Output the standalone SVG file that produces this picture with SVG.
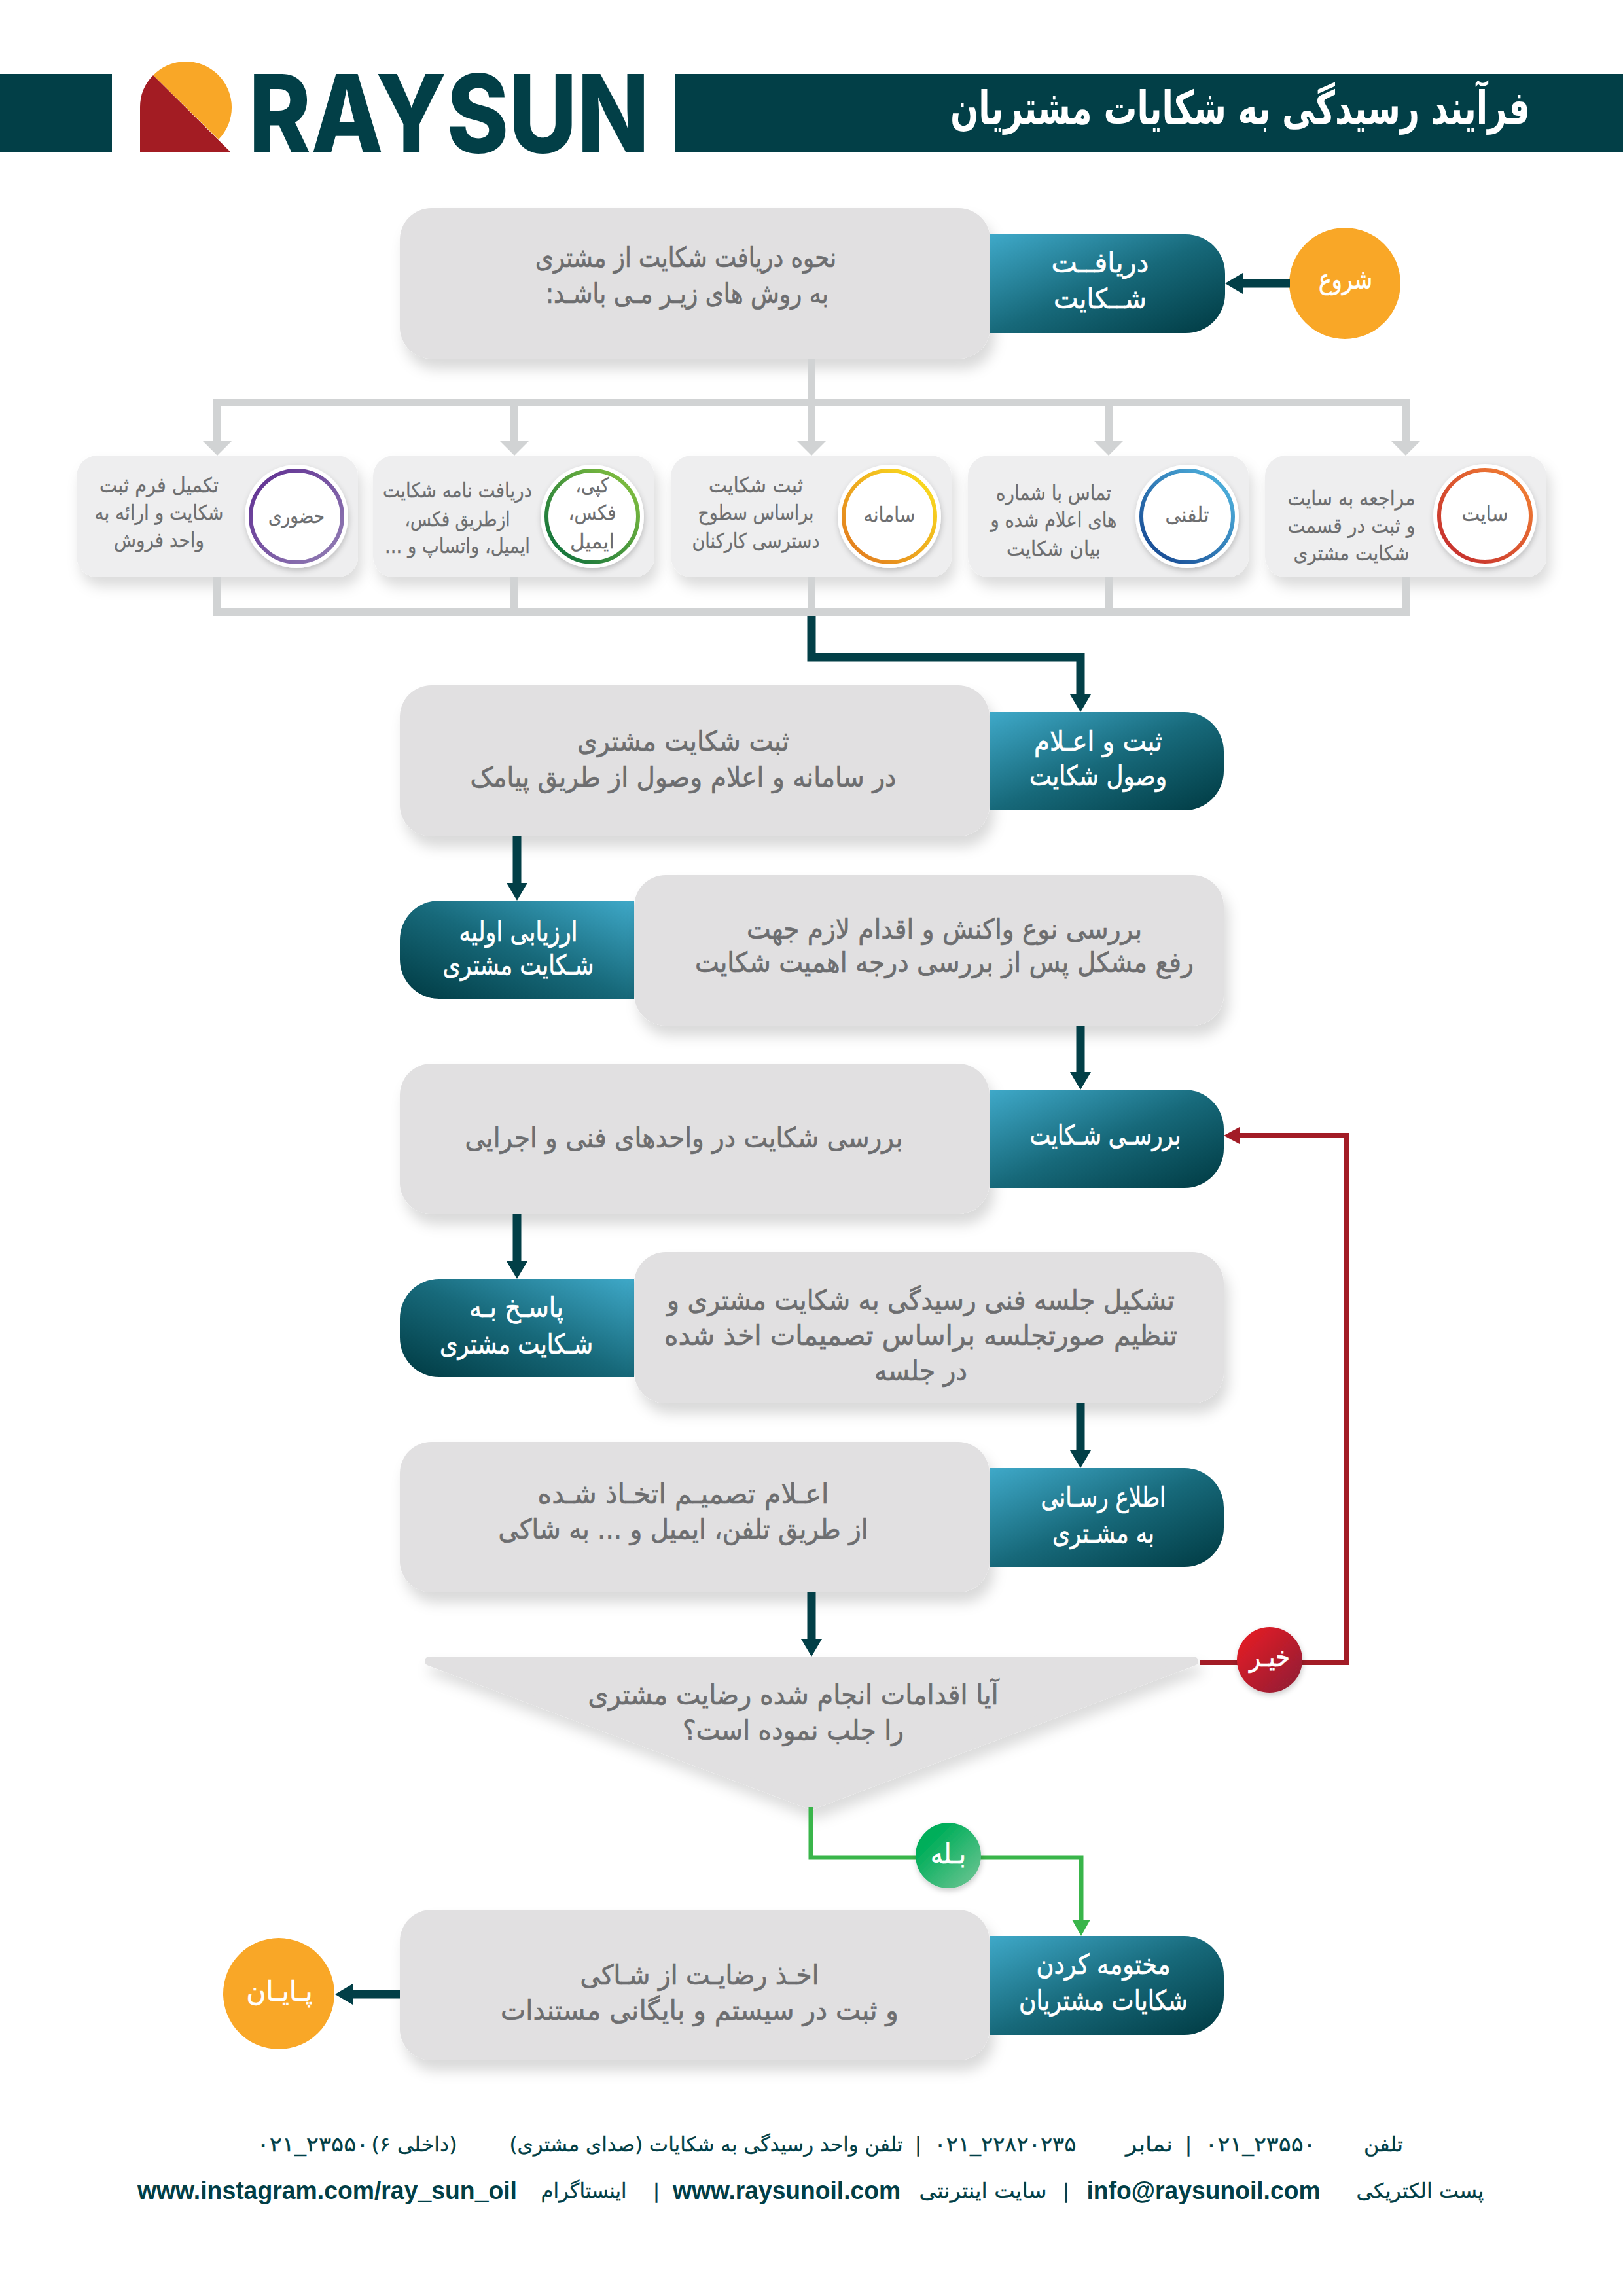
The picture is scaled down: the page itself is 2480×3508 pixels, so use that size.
<svg xmlns="http://www.w3.org/2000/svg" width="2480" height="3508" viewBox="0 0 2480 3508">
<style>
text{font-family:"DejaVu Sans",sans-serif;direction:rtl;text-anchor:middle}
.g{fill:#6d6e70;font-size:42px;stroke:#6d6e70;stroke-width:.7px}
.w{fill:#fff;font-size:42px;stroke:#fff;stroke-width:.7px}
.c{fill:#6d6e70;font-size:31px;stroke:#6d6e70;stroke-width:.3px}
.f{fill:#023f47;font-size:31px;stroke:#023f47;stroke-width:.3px}
.n{fill:#023f47;font-size:31px;direction:ltr;stroke:#023f47;stroke-width:.3px}
.e{fill:#023f47;font-size:38px;font-weight:bold;direction:ltr;font-family:"Liberation Sans",sans-serif}
.box{fill:#e1e0e1;filter:url(#sh)}
.card{fill:#eeeeef;filter:url(#sh2)}
.tr{fill:url(#tealR)}
.tl{fill:url(#tealL)}
.white{fill:#fff;filter:url(#sh3)}
.cd{fill:none;stroke:#023f47;stroke-width:13;marker-end:url(#mDark)}
.cg{fill:none;stroke:#d1d3d4;stroke-width:12}
.cga{fill:none;stroke:#d1d3d4;stroke-width:12;marker-end:url(#mGrey)}
</style>
<defs>
<linearGradient id="tealR" x1="0" y1="0" x2="1" y2="1"><stop offset="0" stop-color="#3fa9c9"/><stop offset="0.5" stop-color="#17697a"/><stop offset="1" stop-color="#003a42"/></linearGradient>
<linearGradient id="tealL" x1="1" y1="0" x2="0" y2="1"><stop offset="0" stop-color="#3fa9c9"/><stop offset="0.5" stop-color="#17697a"/><stop offset="1" stop-color="#003a42"/></linearGradient>
<linearGradient id="rp" x1="1" y1="1" x2="0" y2="0"><stop offset="0" stop-color="#9380b5"/><stop offset="1" stop-color="#5e2c91"/></linearGradient>
<linearGradient id="rg" x1="1" y1="0" x2="0" y2="1"><stop offset="0" stop-color="#8dc63f"/><stop offset="1" stop-color="#056a3c"/></linearGradient>
<linearGradient id="ry" x1="1" y1="0" x2="0" y2="1"><stop offset="0" stop-color="#fce61e"/><stop offset="1" stop-color="#e0731f"/></linearGradient>
<linearGradient id="rb" x1="1" y1="0" x2="0" y2="1"><stop offset="0" stop-color="#54bce4"/><stop offset="1" stop-color="#123f8c"/></linearGradient>
<linearGradient id="rr" x1="1" y1="0" x2="0" y2="1"><stop offset="0" stop-color="#f58634"/><stop offset="1" stop-color="#c1272d"/></linearGradient>
<linearGradient id="red" x1="0" y1="0" x2="1" y2="1"><stop offset="0" stop-color="#ed1c24"/><stop offset="1" stop-color="#8b2035"/></linearGradient>
<linearGradient id="grn" x1="0" y1="0" x2="1" y2="1"><stop offset="0.25" stop-color="#00ae5a"/><stop offset="1" stop-color="#75c697"/></linearGradient>
<filter id="sh" x="-5%" y="-5%" width="112%" height="130%"><feDropShadow dx="7" dy="16" stdDeviation="10" flood-color="#000" flood-opacity="0.15"/></filter>
<filter id="sh2" x="-8%" y="-8%" width="120%" height="140%"><feDropShadow dx="6" dy="14" stdDeviation="10" flood-color="#000" flood-opacity="0.14"/></filter>
<filter id="sh3" x="-15%" y="-15%" width="130%" height="135%"><feDropShadow dx="1" dy="4" stdDeviation="4" flood-color="#000" flood-opacity="0.2"/></filter>
<marker id="mDark" markerUnits="userSpaceOnUse" markerWidth="27" markerHeight="32" refX="0" refY="16" orient="auto"><path d="M0,0L27,16L0,32Z" fill="#023f47"/></marker>
<marker id="mGrey" markerUnits="userSpaceOnUse" markerWidth="22" markerHeight="44" refX="0" refY="22" orient="auto"><path d="M0,0L22,22L0,44Z" fill="#d1d3d4"/></marker>
<marker id="mRed" markerUnits="userSpaceOnUse" markerWidth="24" markerHeight="26" refX="0" refY="13" orient="auto"><path d="M0,0L24,13L0,26Z" fill="#a21c26"/></marker>
<marker id="mGrn" markerUnits="userSpaceOnUse" markerWidth="25" markerHeight="28" refX="0" refY="14" orient="auto"><path d="M0,0L25,14L0,28Z" fill="#39b54a"/></marker>
</defs>
<rect width="2480" height="3508" fill="#fff"/>

<g id="header">
<rect x="0" y="113" width="171" height="120" fill="#023f47"/>
<rect x="1031" y="113" width="1449" height="120" fill="#023f47"/>
<path d="M234,115A69.5,69.5 0 1 1 334,213Z" fill="#f9a727"/>
<path d="M214,233V164A69.5,69.5 0 0 1 234,115L353,233Z" fill="#a31c23"/>
<text x="686" y="233" font-size="165" textLength="612" lengthAdjust="spacingAndGlyphs" style="font-family:Inter,'Liberation Sans',sans-serif;font-weight:800;direction:ltr;fill:#023f47">RAYSUN</text>
<text x="1895" y="189" font-size="70" font-weight="bold" fill="#fff" textLength="886" lengthAdjust="spacingAndGlyphs">فرآیند رسیدگی به شکایات مشتریان</text>
</g>

<g id="node-start"><circle cx="2055" cy="433" r="85" fill="#f9a727"/><text class="w" x="2056" y="441" textLength="82" lengthAdjust="spacingAndGlyphs">شروع</text></g>

<g id="node-receive-detail"><rect class="box" x="611" y="318" width="902" height="230" rx="48"/>
<text class="g" x="1048" y="408" textLength="460" lengthAdjust="spacingAndGlyphs">نحوه دریافت شکایت از مشتری</text>
<text class="g" x="1050" y="463" textLength="432" lengthAdjust="spacingAndGlyphs">به روش های زیـر مـی باشـد:</text></g>
<g id="node-receive"><path class="tr" d="M1513,358H1812A60,60 0 0 1 1872,418V449A60,60 0 0 1 1812,509H1513Z"/>
<text class="w" x="1681" y="416" textLength="149" lengthAdjust="spacingAndGlyphs">دریافــت</text>
<text class="w" x="1681" y="471" textLength="142" lengthAdjust="spacingAndGlyphs">شــکایت</text></g>

<g id="card-hozoori"><rect class="card" x="117" y="696" width="430" height="186" rx="32"/><circle class="white" cx="453" cy="789" r="79"/><circle cx="453" cy="789" r="70" fill="#fff" stroke="url(#rp)" stroke-width="6"/>
<text class="c" x="453" y="799" textLength="86" lengthAdjust="spacingAndGlyphs">حضوری</text>
<text class="c" x="243" y="752" textLength="182" lengthAdjust="spacingAndGlyphs">تکمیل فرم ثبت</text>
<text class="c" x="243" y="794" textLength="197" lengthAdjust="spacingAndGlyphs">شکایت و ارائه به</text>
<text class="c" x="243" y="836" textLength="138" lengthAdjust="spacingAndGlyphs">واحد فروش</text></g>
<g id="card-copy"><rect class="card" x="570" y="696" width="430" height="186" rx="32"/><circle class="white" cx="905" cy="789" r="79"/><circle cx="905" cy="789" r="70" fill="#fff" stroke="url(#rg)" stroke-width="6"/>
<text class="c" x="905" y="752" textLength="51" lengthAdjust="spacingAndGlyphs">کپی،</text>
<text class="c" x="905" y="794" textLength="73" lengthAdjust="spacingAndGlyphs">فکس،</text>
<text class="c" x="905" y="838" textLength="68" lengthAdjust="spacingAndGlyphs">ایمیل</text>
<text class="c" x="699" y="760" textLength="228" lengthAdjust="spacingAndGlyphs">دریافت نامه شکایت</text>
<text class="c" x="699" y="804" textLength="161" lengthAdjust="spacingAndGlyphs">ازطریق فکس،</text>
<text class="c" x="699" y="845" textLength="222" lengthAdjust="spacingAndGlyphs">ایمیل، واتساپ و ...</text></g>
<g id="card-samaneh"><rect class="card" x="1025" y="696" width="429" height="186" rx="32"/><circle class="white" cx="1359" cy="789" r="79"/><circle cx="1359" cy="789" r="70" fill="#fff" stroke="url(#ry)" stroke-width="6"/>
<text class="c" x="1359" y="797" textLength="79" lengthAdjust="spacingAndGlyphs">سامانه</text>
<text class="c" x="1155" y="752" textLength="144" lengthAdjust="spacingAndGlyphs">ثبت شکایت</text>
<text class="c" x="1155" y="794" textLength="177" lengthAdjust="spacingAndGlyphs">براساس سطوح</text>
<text class="c" x="1155" y="837" textLength="195" lengthAdjust="spacingAndGlyphs">دسترسی کارکنان</text></g>
<g id="card-phone"><rect class="card" x="1479" y="696" width="429" height="186" rx="32"/><circle class="white" cx="1814" cy="789" r="79"/><circle cx="1814" cy="789" r="70" fill="#fff" stroke="url(#rb)" stroke-width="6"/>
<text class="c" x="1814" y="797" textLength="67" lengthAdjust="spacingAndGlyphs">تلفنی</text>
<text class="c" x="1610" y="764" textLength="176" lengthAdjust="spacingAndGlyphs">تماس با شماره</text>
<text class="c" x="1610" y="805" textLength="193" lengthAdjust="spacingAndGlyphs">های اعلام شده و</text>
<text class="c" x="1610" y="849" textLength="144" lengthAdjust="spacingAndGlyphs">بیان شکایت</text></g>
<g id="card-site"><rect class="card" x="1933" y="696" width="430" height="186" rx="32"/><circle class="white" cx="2269" cy="788" r="79"/><circle cx="2269" cy="788" r="70" fill="#fff" stroke="url(#rr)" stroke-width="6"/>
<text class="c" x="2269" y="796" textLength="71" lengthAdjust="spacingAndGlyphs">سایت</text>
<text class="c" x="2065" y="772" textLength="195" lengthAdjust="spacingAndGlyphs">مراجعه به سایت</text>
<text class="c" x="2065" y="814" textLength="195" lengthAdjust="spacingAndGlyphs">و ثبت در قسمت</text>
<text class="c" x="2065" y="856" textLength="177" lengthAdjust="spacingAndGlyphs">شکایت مشتری</text></g>

<g id="node-register-detail"><rect class="box" x="611" y="1047" width="901" height="231" rx="48"/>
<text class="g" x="1044" y="1147" textLength="324" lengthAdjust="spacingAndGlyphs">ثبت شکایت مشتری</text>
<text class="g" x="1044" y="1202" textLength="651" lengthAdjust="spacingAndGlyphs">در سامانه و اعلام وصول از طریق پیامک</text></g>
<g id="node-register"><path class="tr" d="M1512,1088H1810A60,60 0 0 1 1870,1148V1178A60,60 0 0 1 1810,1238H1512Z"/>
<text class="w" x="1678" y="1147" textLength="196" lengthAdjust="spacingAndGlyphs">ثبت و اعـلام</text>
<text class="w" x="1678" y="1200" textLength="210" lengthAdjust="spacingAndGlyphs">وصول شکایت</text></g>

<g id="node-evaluate"><path class="tl" d="M969,1376H671A60,60 0 0 0 611,1436V1466A60,60 0 0 0 671,1526H969Z"/>
<text class="w" x="792" y="1438" textLength="181" lengthAdjust="spacingAndGlyphs">ارزیابی اولیه</text>
<text class="w" x="792" y="1489" textLength="231" lengthAdjust="spacingAndGlyphs">شـکایت مشتری</text></g>
<g id="node-evaluate-detail"><rect class="box" x="969" y="1337" width="901" height="230" rx="48"/>
<text class="g" x="1443" y="1434" textLength="604" lengthAdjust="spacingAndGlyphs">بررسی نوع واکنش و اقدام لازم جهت</text>
<text class="g" x="1443" y="1485" textLength="762" lengthAdjust="spacingAndGlyphs">رفع مشکل پس از بررسی درجه اهمیت شکایت</text></g>

<g id="node-review-detail"><rect class="box" x="611" y="1625" width="901" height="230" rx="48"/>
<text class="g" x="1045" y="1753" textLength="669" lengthAdjust="spacingAndGlyphs">بررسی شکایت در واحدهای فنی و اجرایی</text></g>
<g id="node-review"><path class="tr" d="M1512,1665H1810A60,60 0 0 1 1870,1725V1755A60,60 0 0 1 1810,1815H1512Z"/>
<text class="w" x="1689" y="1749" textLength="231" lengthAdjust="spacingAndGlyphs">بررسـی شـکایت</text></g>

<g id="node-respond"><path class="tl" d="M969,1954H671A60,60 0 0 0 611,2014V2044A60,60 0 0 0 671,2104H969Z"/>
<text class="w" x="789" y="2012" textLength="144" lengthAdjust="spacingAndGlyphs">پاسـخ بـه</text>
<text class="w" x="789" y="2068" textLength="234" lengthAdjust="spacingAndGlyphs">شـکایت مشتری</text></g>
<g id="node-respond-detail"><rect class="box" x="969" y="1913" width="901" height="231" rx="48"/>
<text class="g" x="1407" y="2001" textLength="776" lengthAdjust="spacingAndGlyphs">تشکیل جلسه فنی رسیدگی به شکایت مشتری و</text>
<text class="g" x="1407" y="2055" textLength="784" lengthAdjust="spacingAndGlyphs">تنظیم صورتجلسه براساس تصمیمات اخذ شده</text>
<text class="g" x="1407" y="2109" textLength="142" lengthAdjust="spacingAndGlyphs">در جلسه</text></g>

<g id="node-inform-detail"><rect class="box" x="611" y="2203" width="901" height="230" rx="48"/>
<text class="g" x="1044" y="2297" textLength="445" lengthAdjust="spacingAndGlyphs">اعـلام تصمیـم اتخـاذ شـده</text>
<text class="g" x="1044" y="2351" textLength="565" lengthAdjust="spacingAndGlyphs">از طریق تلفن، ایمیل و ... به شاکی</text></g>
<g id="node-inform"><path class="tr" d="M1512,2243H1810A60,60 0 0 1 1870,2303V2334A60,60 0 0 1 1810,2394H1512Z"/>
<text class="w" x="1686" y="2302" textLength="191" lengthAdjust="spacingAndGlyphs">اطلاع رسـانی</text>
<text class="w" x="1686" y="2357" textLength="156" lengthAdjust="spacingAndGlyphs">به مشـتری</text></g>

<g id="node-decision"><path d="M656,2538H1824L1240,2758Z" fill="#e1e0e1" stroke="#e1e0e1" stroke-width="14" stroke-linejoin="round" filter="url(#sh2)"/>
<text class="g" x="1212" y="2604" textLength="627" lengthAdjust="spacingAndGlyphs">آیا اقدامات انجام شده رضایت مشتری</text>
<text class="g" x="1212" y="2658" textLength="338" lengthAdjust="spacingAndGlyphs">را جلب نموده است؟</text></g>

<g id="node-close-detail"><rect class="box" x="611" y="2918" width="901" height="230" rx="48"/>
<text class="g" x="1069" y="3032" textLength="365" lengthAdjust="spacingAndGlyphs">اخـذ رضایـت از شـاکی</text>
<text class="g" x="1069" y="3086" textLength="608" lengthAdjust="spacingAndGlyphs">و ثبت در سیستم و بایگانی مستندات</text></g>
<g id="node-close"><path class="tr" d="M1512,2958H1810A60,60 0 0 1 1870,3018V3049A60,60 0 0 1 1810,3109H1512Z"/>
<text class="w" x="1686" y="3016" textLength="205" lengthAdjust="spacingAndGlyphs">مختومه کردن</text>
<text class="w" x="1686" y="3071" textLength="258" lengthAdjust="spacingAndGlyphs">شکایات مشتریان</text></g>
<g id="node-end"><circle cx="426" cy="3046" r="85" fill="#f9a727"/><text class="w" x="427" y="3057" textLength="101" lengthAdjust="spacingAndGlyphs">پـایـان</text></g>

<g id="connectors">
<path class="cd" d="M1971,433H1899"/>
<path class="cg" d="M1240,548V615M332,615H2148"/>
<path class="cga" d="M332,609V674"/><path class="cga" d="M786,615V674"/><path class="cga" d="M1240,615V674"/><path class="cga" d="M1694,615V674"/><path class="cga" d="M2148,609V674"/>
<path class="cg" d="M332,882V935M786,882V935M1240,882V935M1694,882V935M2148,882V935M326,935H2154"/>
<path class="cd" d="M1240,941V1004H1651V1061"/>
<path class="cd" d="M790,1278V1349"/>
<path class="cd" d="M1651,1567V1638"/>
<path class="cd" d="M790,1855V1927"/>
<path class="cd" d="M1651,2144V2216"/>
<path class="cd" d="M1240,2433V2504"/>
<path class="cd" d="M611,3047H539"/>
<path d="M1834,2540H2057V1735H1894" fill="none" stroke="#a21c26" stroke-width="8" marker-end="url(#mRed)"/>
<path d="M1239,2761V2838H1652V2933" fill="none" stroke="#39b54a" stroke-width="7" marker-end="url(#mGrn)"/>
</g>

<g id="label-no"><circle cx="1940" cy="2536" r="50" fill="url(#red)" filter="url(#sh3)"/><text class="w" x="1940" y="2546" textLength="62" lengthAdjust="spacingAndGlyphs">خیـر</text></g>
<g id="label-yes"><circle cx="1449" cy="2835" r="50" fill="url(#grn)" filter="url(#sh3)"/><text class="w" x="1449" y="2847" textLength="54" lengthAdjust="spacingAndGlyphs">بـله</text></g>

<g id="footer">
<text class="f" x="2114" y="3287" textLength="60" lengthAdjust="spacingAndGlyphs">تلفن</text>
<text class="n" x="1926" y="3287" textLength="169" lengthAdjust="spacingAndGlyphs">۰۲۱_۲۳۵۵۰</text>
<text class="f" x="1816" y="3287">|</text>
<text class="f" x="1756" y="3287" textLength="72" lengthAdjust="spacingAndGlyphs">نمابر</text>
<text class="n" x="1536" y="3287" textLength="217" lengthAdjust="spacingAndGlyphs">۰۲۱_۲۲۸۲۰۲۳۵</text>
<text class="f" x="1403" y="3287">|</text>
<text class="f" x="1079" y="3287" textLength="601" lengthAdjust="spacingAndGlyphs">تلفن واحد رسیدگی به شکایات (صدای مشتری)</text>
<text class="f" x="633" y="3287" textLength="131" lengthAdjust="spacingAndGlyphs">(داخلی ۶)</text>
<text class="n" x="478" y="3287" textLength="171" lengthAdjust="spacingAndGlyphs">۰۲۱_۲۳۵۵۰</text>
<text class="f" x="2170" y="3358" textLength="195" lengthAdjust="spacingAndGlyphs">پست الکتریکی</text>
<text class="e" x="1839" y="3360" textLength="357" lengthAdjust="spacingAndGlyphs">info@raysunoil.com</text>
<text class="f" x="1629" y="3358">|</text>
<text class="f" x="1502" y="3358" textLength="195" lengthAdjust="spacingAndGlyphs">سایت اینترنتی</text>
<text class="e" x="1202" y="3360" textLength="348" lengthAdjust="spacingAndGlyphs">www.raysunoil.com</text>
<text class="f" x="1003" y="3358">|</text>
<text class="f" x="892" y="3358" textLength="131" lengthAdjust="spacingAndGlyphs">اینستاگرام</text>
<text class="e" x="500" y="3360" textLength="580" lengthAdjust="spacingAndGlyphs">www.instagram.com/ray_sun_oil</text>
</g>
</svg>
